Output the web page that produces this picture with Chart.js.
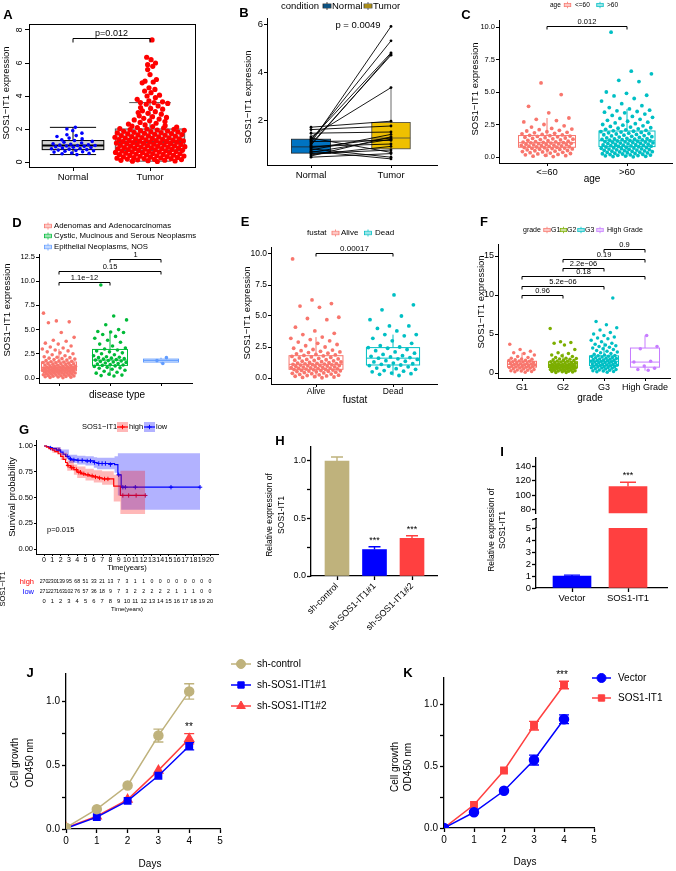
<!DOCTYPE html>
<html>
<head>
<meta charset="utf-8">
<script src="https://cdn.jsdelivr.net/npm/chart.js@4.4.1/dist/chart.umd.min.js"></script>
<style>
  html, body { margin: 0; padding: 0; background: #fff; }
  #fig { position: relative; width: 676px; height: 871px; overflow: hidden; background: #fff; }
  #fig canvas { position: absolute; }
</style>
</head>
<body>
<div id="fig"></div>
<script>
// ---------- data ----------
// A: SOS1-IT1 expression, normal vs tumor (beeswarm)
const aGroups = ['Normal', 'Tumor'];
const aTicks = [0, 2, 4, 6, 8];
const aNormal = [0.45,0.5,0.52,0.55,0.6,0.62,0.65,0.68,0.7,0.72,0.75,0.78,0.8,0.82,0.85,0.88,0.9,0.92,0.95,0.97,1.0,1.0,1.02,1.05,1.08,1.1,1.15,1.2,1.25,1.3,1.35,1.4,1.45,1.55,1.6,1.65,1.75,1.9,2.0,2.1];
const aTumor = [0.03,0.05,0.06,0.08,0.1,0.11,0.13,0.15,0.16,0.18,0.2,0.21,0.23,0.25,0.26,0.28,0.3,0.31,0.33,0.35,0.36,0.38,0.4,0.41,0.43,0.45,0.46,0.48,0.5,0.51,0.53,0.55,0.56,0.58,0.6,0.61,0.63,0.65,0.66,0.68,0.7,0.71,0.73,0.75,0.76,0.78,0.8,0.81,0.83,0.85,0.86,0.88,0.9,0.91,0.93,0.95,0.96,0.98,1.0,1.01,1.03,1.05,1.06,1.08,1.1,1.11,1.13,1.15,1.16,1.18,1.2,1.21,1.23,1.25,1.26,1.28,1.3,1.31,1.33,1.35,1.36,1.38,1.4,1.41,1.43,1.45,1.46,1.48,1.5,1.52,1.54,1.56,1.58,1.6,1.62,1.64,1.66,1.68,1.7,1.72,1.74,1.76,1.78,1.8,1.82,1.84,1.86,1.88,1.9,1.92,1.94,1.96,1.98,2.0,2.03,2.06,2.09,2.12,2.15,2.18,2.2,
  2.25,2.3,2.35,2.4,2.45,2.5,2.55,2.6,2.65,2.7,2.75,2.8,2.9,2.95,3.0,3.05,3.1,3.2,3.25,3.3,3.4,3.5,3.55,3.6,3.6,3.65,3.7,3.8,3.9,4.0,4.05,4.2,4.3,4.4,4.5,4.8,4.85,4.9,5.0,5.3,5.6,5.8,5.9,6.0,6.2,6.35,7.4];
const aBoxNormal = [0.45, 0.75, 1.0, 1.3, 2.1];   // min, q1, median, q3, max
const aBoxTumor = [0.05, 0.7, 1.2, 2.0, 3.6];

// B: paired samples
const bGroups = ['Normal', 'Tumor'];
const bNormal = [1.05,1.15,1.2,0.95,1.0,1.3,1.7,1.6,1.45,0.75,0.5,0.85,0.65,1.1,0.9,0.55,0.6,1.25,0.45,0.8,0.7];
const bTumor = [5.9,5.3,4.8,4.75,4.7,3.35,1.95,1.75,1.5,1.4,1.3,1.25,1.2,1.15,1.0,0.9,0.75,0.65,0.6,0.45,0.38];
const bBoxNormal = [0.42, 0.62, 0.88, 1.2, 1.7];
const bBoxTumor = [0.38, 0.8, 1.25, 1.9, 3.35];

// C: age
const cGroups = ['<=60', '>60'];
const cYoung = [0.03,0.06,0.1,0.13,0.17,0.2,0.24,0.27,0.3,0.33,0.36,0.39,0.42,0.45,0.48,0.5,0.53,0.55,0.58,0.6,0.62,0.65,0.67,0.69,0.71,0.73,0.75,0.77,0.79,0.81,0.83,0.85,0.87,0.89,0.91,0.93,0.95,0.97,0.99,1.01,1.03,1.05,1.07,1.09,1.11,1.13,1.15,1.17,1.19,1.22,1.25,1.28,1.31,1.34,1.37,1.4,1.43,1.46,1.49,1.52,1.55,1.58,1.61,1.64,1.67,1.7,1.74,1.78,1.82,1.86,1.9,1.95,2.0,2.05,2.1,2.15,2.2,2.3,2.4,2.5,2.7,2.8,2.9,3.0,3.4,3.9,4.8,5.7];
const cOld = [0.01,0.03,0.05,0.07,0.09,0.11,0.13,0.15,0.17,0.19,0.21,0.23,0.25,0.27,0.29,0.31,0.33,0.35,0.37,0.39,0.41,0.43,0.45,0.47,0.49,0.51,0.53,0.55,0.57,0.59,0.61,0.63,0.65,0.67,0.69,0.71,0.73,0.75,0.77,0.79,0.81,0.83,0.85,0.87,0.89,0.91,0.93,0.95,0.97,0.99,1.01,1.03,1.05,1.07,1.09,1.11,1.13,1.15,1.17,1.19,1.21,1.23,1.25,1.27,1.29,1.31,1.33,1.35,1.37,1.39,1.41,1.44,1.47,1.5,1.53,1.56,1.59,1.62,1.65,1.68,1.71,1.74,1.77,1.8,1.83,1.86,1.89,1.92,1.95,1.98,2.01,2.05,2.09,2.13,2.17,2.21,2.25,2.3,2.35,2.4,2.45,2.5,2.56,2.62,2.68,2.75,2.82,2.9,2.97,3.05,3.12,3.2,3.3,3.4,3.45,3.5,3.55,3.6,3.7,3.8,3.95,4.1,4.3,4.5,4.7,4.75,4.9,5.0,5.8,5.9,6.4,6.6,9.6];
const cBoxYoung = [0.0, 0.75, 1.1, 1.65, 3.0];
const cBoxOld = [0.0, 0.8, 1.25, 2.0, 3.7];

// D: disease type
const dGroups = ['Adenomas and Adenocarcinomas', 'Cystic, Mucinous and Serous Neoplasms', 'Epithelial Neoplasms, NOS'];
const dAden = [0.02,0.05,0.08,0.1,0.13,0.15,0.18,0.2,0.23,0.25,0.28,0.3,0.33,0.35,0.38,0.4,0.43,0.45,0.48,0.5,0.52,0.54,0.56,0.58,0.6,0.62,0.64,0.66,0.68,0.7,0.72,0.74,0.76,0.78,0.8,0.82,0.84,0.86,0.88,0.9,0.92,0.94,0.96,0.98,1.0,1.02,1.04,1.06,1.08,1.1,1.12,1.14,1.16,1.18,1.2,1.23,1.26,1.29,1.32,1.35,1.38,1.41,1.44,1.47,1.5,1.53,1.56,1.6,1.64,1.68,1.72,1.76,1.8,1.85,1.9,1.95,2.0,2.05,2.1,2.15,2.2,2.3,2.4,2.5,2.6,2.7,2.8,2.9,3.0,3.1,3.2,3.3,3.5,3.6,3.8,3.9,4.2,4.7,5.7,5.8,5.9,6.7];
const dCyst = [0.2,0.25,0.3,0.4,0.5,0.6,0.7,0.8,0.9,1.0,1.05,1.1,1.2,1.25,1.3,1.35,1.4,1.45,1.5,1.55,1.6,1.65,1.7,1.75,1.8,1.85,1.9,1.95,2.0,2.05,2.1,2.15,2.2,2.3,2.4,2.5,2.6,2.7,2.8,2.9,3.0,3.1,3.3,3.5,3.7,3.9,4.1,4.3,4.5,4.7,4.75,4.8,5.0,5.5,6.0,6.4,9.6];
const dEpi = [1.5, 1.8, 2.1];
const dBoxes = [[0.0, 0.75, 1.1, 1.65, 3.0], [0.25, 1.3, 1.85, 2.95, 4.8], [1.5, 1.65, 1.8, 1.95, 2.1]];

// E: fustat
const eGroups = ['Alive', 'Dead'];
const eAlive = [0.02,0.05,0.08,0.11,0.14,0.17,0.2,0.23,0.26,0.29,0.32,0.35,0.38,0.41,0.44,0.47,0.5,0.52,0.54,0.56,0.58,0.6,0.62,0.64,0.66,0.68,0.7,0.72,0.74,0.76,0.78,0.8,0.82,0.84,0.86,0.88,0.9,0.92,0.94,0.96,0.98,1.0,1.02,1.04,1.06,1.08,1.1,1.12,1.14,1.16,1.18,1.2,1.23,1.26,1.29,1.32,1.35,1.38,1.41,1.44,1.47,1.5,1.54,1.58,1.62,1.66,1.7,1.74,1.78,1.82,1.86,1.9,1.95,2.0,2.05,2.1,2.15,2.2,2.25,2.3,2.4,2.5,2.6,2.7,2.8,2.9,3.0,3.1,3.2,3.3,3.5,3.6,3.8,4.1,4.7,4.8,4.9,5.7,5.8,6.0,6.3,9.6];
const eDead = [0.2,0.3,0.35,0.4,0.5,0.55,0.6,0.7,0.75,0.8,0.9,0.95,1.0,1.05,1.1,1.15,1.2,1.3,1.35,1.4,1.5,1.55,1.6,1.65,1.7,1.75,1.8,1.9,2.0,2.1,2.2,2.3,2.4,2.45,2.5,2.6,2.8,3.0,3.2,3.4,3.5,3.5,3.8,4.0,4.2,4.2,4.7,5.0,5.5,5.9,6.7];
const eBoxAlive = [0.0, 0.7, 1.1, 1.8, 3.3];
const eBoxDead = [0.2, 1.05, 1.6, 2.45, 3.5];

// F: grade
const fGroups = ['G1', 'G2', 'G3', 'High Grade'];
const fG1 = [0.1,0.15,0.2,0.25,0.3,0.35,0.4,0.45,0.5,0.55,0.6,0.65,0.7,0.74,0.78,0.82,0.86,0.9,0.94,0.98,1.02,1.06,1.1,1.14,1.18,1.22,1.26,1.3,1.35,1.4,1.45,1.5,1.55,1.6,1.65,1.7,1.75,1.8,1.9,2.0,2.1,2.3,2.5,2.6,2.8,3.0,3.7];
const fG2 = [0.05,0.08,0.12,0.15,0.18,0.22,0.25,0.28,0.32,0.35,0.38,0.42,0.45,0.48,0.5,0.53,0.56,0.59,0.62,0.65,0.68,0.7,0.72,0.75,0.78,0.8,0.82,0.85,0.88,0.9,0.92,0.95,0.98,1.0,1.02,1.05,1.08,1.1,1.13,1.16,1.2,1.24,1.28,1.32,1.36,1.4,1.45,1.5,1.55,1.6,1.65,1.7,1.75,1.8,1.85,1.9,2.0,2.1,2.2,2.3,2.5,2.6,3.0,3.6,3.8,3.9,4.0,5.7];
const fG3 = [0.1,0.15,0.2,0.25,0.3,0.35,0.4,0.45,0.5,0.55,0.6,0.64,0.68,0.72,0.76,0.8,0.84,0.88,0.92,0.96,1.0,1.04,1.08,1.12,1.16,1.2,1.24,1.28,1.32,1.36,1.4,1.44,1.48,1.52,1.56,1.6,1.64,1.68,1.72,1.76,1.8,1.85,1.9,1.95,2.0,2.05,2.1,2.15,2.2,2.25,2.3,2.4,2.5,2.6,2.7,2.8,2.9,3.0,3.1,3.2,3.3,3.4,3.5,3.6,3.7,3.8,4.0,4.2,4.4,4.5,4.6,4.8,5.0,5.2,5.5,5.8,6.2,6.6,9.6];
const fHG = [0.35, 0.45, 0.6, 0.9, 1.4, 1.5, 3.1, 3.4, 4.8];
const fBoxes = [[0.1, 0.75, 1.1, 1.5, 2.6], [0.05, 0.7, 1.0, 1.45, 2.5], [0.1, 0.95, 1.5, 2.2, 3.9], [0.3, 0.75, 1.4, 3.2, 4.8]];

// G: Kaplan-Meier
const gYears = [0,1,2,3,4,5,6,7,8,9,10,11,12,13,14,15,16,17,18,19,20];
const gHigh = [[0,1],[0.3,0.99],[0.6,0.975],[1,0.96],[1.3,0.945],[1.7,0.925],[2,0.9],[2.3,0.87],[2.6,0.84],[2.8,0.81],[3.2,0.79],[3.6,0.77],[4,0.745],[4.5,0.73],[5,0.72],[5.5,0.71],[6,0.7],[6.5,0.69],[7,0.68],[8.4,0.61],[9.2,0.52],[12.2,0.52]];
const gHighUp = [[0,1],[1,0.985],[2,0.935],[2.8,0.86],[3.6,0.82],[4,0.8],[5,0.78],[6,0.765],[7,0.755],[8.4,0.72],[9.2,0.76],[12.2,0.76]];
const gHighLo = [[0,1],[1,0.935],[2,0.865],[2.8,0.76],[3.6,0.72],[4,0.69],[5,0.665],[6,0.645],[7,0.625],[8.4,0.46],[9.2,0.34],[12.2,0.34]];
const gLow = [[0,1],[0.3,0.995],[0.6,0.985],[1,0.975],[1.5,0.96],[2,0.94],[2.3,0.92],[2.6,0.9],[3,0.875],[3.3,0.865],[4,0.86],[5,0.855],[6,0.84],[6.4,0.83],[8.5,0.82],[8.9,0.72],[9.3,0.6],[18.8,0.6]];
const gLowUp = [[0,1],[1,0.99],[2,0.965],[3,0.915],[4,0.905],[5,0.9],[6,0.89],[6.4,0.885],[8.5,0.9],[8.9,0.93],[9.3,0.93],[18.8,0.93]];
const gLowLo = [[0,1],[1,0.955],[2,0.91],[3,0.835],[4,0.82],[5,0.81],[6,0.79],[6.4,0.775],[8.5,0.74],[8.9,0.52],[9.3,0.38],[18.8,0.38]];
const gCensHigh = [[2.9,0.81],[3.3,0.79],[3.5,0.79],[3.9,0.77],[4.2,0.745],[4.4,0.745],[4.8,0.73],[5.3,0.72],[5.8,0.71],[6.2,0.7],[6.7,0.69],[7.3,0.68],[7.7,0.68],[9.5,0.52],[10.2,0.52],[11.1,0.52],[12.2,0.52]];
const gCensLow = [[0.8,0.98],[1.8,0.96],[2.8,0.9],[3.2,0.875],[3.6,0.865],[4.1,0.86],[4.6,0.86],[5.2,0.855],[5.6,0.855],[6.1,0.84],[6.6,0.83],[7.0,0.83],[7.4,0.83],[8.0,0.82],[9.0,0.72],[9.5,0.6],[9.8,0.6],[11.0,0.6],[15.3,0.6],[18.8,0.6]];
const gRiskHigh = [270,230,139,95,68,51,33,21,13,7,3,1,1,0,0,0,0,0,0,0,0];
const gRiskLow = [271,227,163,102,76,57,36,18,9,7,3,2,2,2,2,2,1,1,1,0,0];

// H: knockdown qPCR
const hLabels = ['sh-control', 'sh-SOS1-IT1#1', 'sh-SOS1-IT1#2'];
const hValues = [1.0, 0.23, 0.328];
const hErr = [0.035, 0.025, 0.022];

// I: overexpression qPCR
const iLabels = ['Vector', 'SOS1-IT1'];
const iValues = [1.0, 112];
const iErr = [0.07, 6];

// J / K: CCK-8 growth curves
const days = [0, 1, 2, 3, 4];
const jControl = [0.01, 0.155, 0.34, 0.73, 1.075];
const jSh1 = [0.005, 0.093, 0.22, 0.416, 0.648];
const jSh2 = [0.01, 0.1, 0.23, 0.458, 0.705];
const jErrControl = [0, 0.01, 0.02, 0.05, 0.06];
const jErrSh1 = [0, 0.01, 0.01, 0.015, 0.03];
const jErrSh2 = [0, 0.01, 0.01, 0.015, 0.04];
const kVector = [0, 0.127, 0.3, 0.548, 0.877];
const kOver = [0, 0.187, 0.464, 0.825, 1.153];
const kErrVector = [0, 0.01, 0.015, 0.04, 0.035];
const kErrOver = [0, 0.012, 0.015, 0.035, 0.03];

// ---------- helpers ----------
const FONT = '"Liberation Sans", Arial, Helvetica, sans-serif';
Chart.defaults.font.family = FONT;
Chart.defaults.color = '#000';
const fig = document.getElementById('fig');
const GOLD = 0.6180339887;
const RED = '#F8766D', TEAL = '#00BFC4';

function span(v0, p0, v1, p1, lo, hi) {
  const k = (v1 - v0) / (p1 - p0);
  return { min: v0 + (lo - p0) * k, max: v0 + (hi - p0) * k };
}

function jitter(vals, cat, w) {
  return vals.map((v, i) => ({ x: cat + (((i + 1) * GOLD) % 1 - 0.5) * 2 * w, y: v }));
}

function swarm(vals, cat, w) {
  const cnt = vals.map(v => vals.filter(u => Math.abs(u - v) <= 0.2).length);
  const ref = Math.max(...cnt) * 0.6;
  return vals.map((v, i) => {
    const k = Math.pow(Math.min(1, cnt[i] / ref), 0.9);
    return { x: cat + (((i + 1) * GOLD) % 1 - 0.5) * 2 * w * k, y: v };
  });
}

function text(ctx, s, x, y, o = {}) {
  ctx.save();
  ctx.font = (o.bold ? 'bold ' : '') + (o.size || 8) + 'px ' + FONT;
  ctx.fillStyle = o.color || '#000';
  ctx.textAlign = o.align || 'center';
  ctx.textBaseline = o.base || 'middle';
  ctx.translate(x, y);
  if (o.rot) ctx.rotate(o.rot);
  ctx.fillText(s, 0, 0);
  ctx.restore();
}

function axis(range, ticks, o) {
  return {
    type: 'linear', min: range.min, max: range.max, bounds: 'data', offset: false,
    afterBuildTicks: s => { s.ticks = ticks.map(v => ({ value: v })); },
    ticks: {
      display: o.labels !== false, autoSkip: false, padding: o.pad ?? 2,
      minRotation: o.rot || 0, maxRotation: o.rot || 0,
      font: { size: o.size || 8 }, color: '#000',
      callback: o.fmt || (v => String(v)),
    },
    grid: { display: true, offset: false, drawOnChartArea: false, drawTicks: true,
      tickLength: o.tick ?? 3, tickWidth: o.bw || 1, tickColor: '#000', color: '#000' },
    border: { display: true, color: '#000', width: o.bw || 1 },
  };
}

function panel(p) {
  const { box, plot } = p;
  const canvas = document.createElement('canvas');
  canvas.width = box.w; canvas.height = box.h;
  Object.assign(canvas.style, { left: box.x + 'px', top: box.y + 'px', width: box.w + 'px', height: box.h + 'px' });
  fig.appendChild(canvas);
  const util = c => ({
    X: v => c.scales.x.getPixelForValue(v),
    Y: v => c.scales.y.getPixelForValue(v),
    px: x => x - box.x,
    py: y => y - box.y,
    t: (s, x, y, o) => text(c.ctx, s, x - box.x, y - box.y, o),
    tc: (s, x, y, o) => text(c.ctx, s, x, y, o),
  });
  const xs = axis(p.xr, p.xt, p.xo || {});
  xs.afterFit = s => { s.height = box.y + box.h - plot.b; };
  if (p.noX) xs.display = false;
  const ys = axis(p.yr, p.yt, p.yo || {});
  ys.afterFit = s => { s.width = plot.l - box.x; };
  return new Chart(canvas, {
    type: p.type || 'scatter',
    data: { datasets: p.datasets },
    options: {
      responsive: false, animation: false, devicePixelRatio: 1, events: [],
      layout: { padding: { left: 0, top: plot.t - box.y, right: box.x + box.w - plot.r,
        bottom: p.noX ? box.y + box.h - plot.b : 0 } },
      plugins: { legend: { display: false }, tooltip: { enabled: false } },
      scales: { x: xs, y: ys },
    },
    plugins: [{
      id: 'deco',
      beforeDatasetsDraw: c => { if (p.under) p.under(c.ctx, util(c)); },
      afterDatasetsDraw: c => { if (p.over) p.over(c.ctx, util(c)); },
    }],
  });
}

function drawBox(ctx, u, cat, s, hw, o) {
  const x0 = u.X(cat - hw), x1 = u.X(cat + hw), xm = u.X(cat);
  ctx.save();
  ctx.strokeStyle = o.stroke; ctx.lineWidth = o.lw || 1;
  ctx.beginPath();
  ctx.moveTo(xm, u.Y(s[0])); ctx.lineTo(xm, u.Y(s[1]));
  ctx.moveTo(xm, u.Y(s[3])); ctx.lineTo(xm, u.Y(s[4]));
  if (o.cap) {
    const cw = (x1 - x0) * o.cap / 2;
    ctx.moveTo(xm - cw, u.Y(s[0])); ctx.lineTo(xm + cw, u.Y(s[0]));
    ctx.moveTo(xm - cw, u.Y(s[4])); ctx.lineTo(xm + cw, u.Y(s[4]));
  }
  ctx.stroke();
  ctx.fillStyle = o.fill;
  ctx.fillRect(x0, u.Y(s[3]), x1 - x0, u.Y(s[1]) - u.Y(s[3]));
  ctx.strokeRect(x0, u.Y(s[3]), x1 - x0, u.Y(s[1]) - u.Y(s[3]));
  ctx.lineWidth = o.mlw || o.lw || 1;
  ctx.beginPath(); ctx.moveTo(x0, u.Y(s[2])); ctx.lineTo(x1, u.Y(s[2])); ctx.stroke();
  ctx.restore();
}

function bracket(ctx, u, a, b, v, label, size, tick = 3) {
  const y = Math.round(u.Y(v)) + 0.5, x0 = u.X(a), x1 = u.X(b);
  ctx.save();
  ctx.strokeStyle = '#000'; ctx.lineWidth = 1;
  ctx.beginPath();
  ctx.moveTo(x0, y + tick); ctx.lineTo(x0, y); ctx.lineTo(x1, y); ctx.lineTo(x1, y + tick);
  ctx.stroke();
  ctx.restore();
  u.tc(label, (x0 + x1) / 2, y - 0.5, { size, base: 'bottom' });
}

// ggplot-style boxplot legend key, page coords
function boxKey(ctx, u, x, y, s, stroke, fill) {
  const cx = u.px(x), cy = u.py(y);
  ctx.save();
  ctx.strokeStyle = stroke; ctx.lineWidth = 0.8;
  ctx.beginPath(); ctx.moveTo(cx, cy - s / 2); ctx.lineTo(cx, cy + s / 2); ctx.stroke();
  ctx.fillStyle = fill;
  ctx.fillRect(cx - s / 2, cy - s / 4, s, s / 2);
  ctx.strokeRect(cx - s / 2, cy - s / 4, s, s / 2);
  ctx.beginPath(); ctx.moveTo(cx - s / 2, cy); ctx.lineTo(cx + s / 2, cy); ctx.stroke();
  ctx.restore();
}

function errBar(ctx, u, x, v, e, color, cap, both) {
  const xp = u.X(x);
  ctx.save();
  ctx.strokeStyle = color; ctx.lineWidth = 1.4;
  ctx.beginPath();
  ctx.moveTo(xp, u.Y(both ? v - e : v)); ctx.lineTo(xp, u.Y(v + e));
  ctx.moveTo(xp - cap, u.Y(v + e)); ctx.lineTo(xp + cap, u.Y(v + e));
  if (both) { ctx.moveTo(xp - cap, u.Y(v - e)); ctx.lineTo(xp + cap, u.Y(v - e)); }
  ctx.stroke();
  ctx.restore();
}

function marker(ctx, style, r, x, y, color) {
  ctx.save();
  ctx.fillStyle = color; ctx.strokeStyle = color; ctx.lineWidth = 1;
  Chart.helpers.drawPoint(ctx, { pointStyle: style, radius: r, rotation: 0, borderWidth: 1 }, x, y);
  ctx.restore();
}

const ROT = -Math.PI / 2;
const fmt1 = v => v.toFixed(1);
const fmtHalf = v => (Math.abs(v * 2 - Math.round(v * 2)) < 1e-6 ? v.toFixed(1) : '');

// ---------- A ----------
panel({
  box: { x: 0, y: 0, w: 225, h: 195 }, plot: { l: 29, t: 24, r: 195, b: 167 },
  xr: span(1, 73, 2, 150, 29, 195), xt: [1, 2],
  xo: { fmt: v => aGroups[Math.round(v) - 1], size: 9.5, tick: 4, pad: 1 },
  yr: span(0, 162, 8, 30, 167, 24), yt: aTicks, yo: { labels: false, tick: 4 },
  datasets: [
    { data: swarm(aNormal, 1, 0.3), backgroundColor: '#0000FF', borderWidth: 0, pointRadius: 1.8 },
    { data: swarm(aTumor, 2, 0.46), backgroundColor: '#FF0000', borderWidth: 0, pointRadius: 2.6 },
  ],
  under: (ctx, u) => {
    drawBox(ctx, u, 1, aBoxNormal, 0.4, { stroke: '#000', fill: '#D3D3D3', lw: 1, mlw: 2.2, cap: 0.75 });
    drawBox(ctx, u, 2, aBoxTumor, 0.45, { stroke: '#555', fill: '#D3D3D3', lw: 1, mlw: 2.2, cap: 0.6 });
  },
  over: (ctx, u) => {
    ctx.save(); ctx.strokeStyle = '#000'; ctx.lineWidth = 1;
    ctx.strokeRect(u.px(29) + 0.5, u.py(24) + 0.5, 166, 143); ctx.restore();
    aTicks.forEach(v => u.tc(String(v), u.px(20), u.Y(v), { size: 8.5, rot: ROT }));
    bracket(ctx, u, 1, 2, 7.5, 'p=0.012', 9, 4);
    u.t('A', 8, 15, { bold: true, size: 13 });
    u.t('SOS1−IT1 expression', 6, 93, { size: 9.5, rot: ROT });
  },
});

// ---------- B ----------
panel({
  box: { x: 225, y: 0, w: 225, h: 195 }, plot: { l: 267, t: 18, r: 437, b: 165 },
  xr: span(1, 311, 2, 391, 267, 437), xt: [1, 2],
  xo: { fmt: v => bGroups[Math.round(v) - 1], size: 9.5, tick: 3, pad: 2 },
  yr: span(2, 120, 6, 24, 165, 18), yt: [2, 4, 6], yo: { size: 9.5, tick: 3, pad: 1 },
  datasets: bNormal.map((v, i) => ({
    type: 'line', data: [{ x: 1, y: v }, { x: 2, y: bTumor[i] }],
    borderColor: '#000', borderWidth: 0.9, pointRadius: 1.4,
    pointBackgroundColor: '#000', pointBorderWidth: 0,
  })),
  under: (ctx, u) => {
    drawBox(ctx, u, 1, bBoxNormal, 0.245, { stroke: '#222', fill: '#0073C2', lw: 0.8 });
    drawBox(ctx, u, 2, bBoxTumor, 0.24, { stroke: '#444', fill: '#EFC000', lw: 0.8 });
  },
  over: (ctx, u) => {
    u.t('p = 0.0049', 358, 25, { size: 9.5 });
    u.t('condition', 281, 6, { size: 9.5, align: 'left' });
    boxKey(ctx, u, 327, 6, 8, '#222', '#0073C2');
    u.t('Normal', 332, 6, { size: 9.5, align: 'left' });
    boxKey(ctx, u, 368, 6, 8, '#444', '#EFC000');
    u.t('Tumor', 373, 6, { size: 9.5, align: 'left' });
    u.t('B', 244, 13, { bold: true, size: 13 });
    u.t('SOS1−IT1 expression', 248, 97, { size: 9.5, rot: ROT });
  },
});

// ---------- C ----------
panel({
  box: { x: 450, y: 0, w: 226, h: 195 }, plot: { l: 499, t: 20, r: 672, b: 163 },
  xr: span(1, 547, 2, 627, 499, 672), xt: [1, 2],
  xo: { fmt: v => cGroups[Math.round(v) - 1], size: 9.5, tick: 3, pad: 1 },
  yr: span(0, 157, 10, 27, 163, 20), yt: [0, 2.5, 5, 7.5, 10], yo: { size: 7.5, tick: 3, pad: 1, fmt: fmt1 },
  datasets: [
    { data: jitter(cYoung, 1, 0.33), backgroundColor: RED, borderWidth: 0, pointRadius: 1.9 },
    { data: jitter(cOld, 2, 0.33), backgroundColor: TEAL, borderWidth: 0, pointRadius: 1.9 },
  ],
  under: (ctx, u) => {
    drawBox(ctx, u, 1, cBoxYoung, 0.356, { stroke: RED, fill: '#fff', lw: 1 });
    drawBox(ctx, u, 2, cBoxOld, 0.35, { stroke: TEAL, fill: '#fff', lw: 1 });
  },
  over: (ctx, u) => {
    bracket(ctx, u, 1, 2, 10.08, '0.012', 7.5);
    u.t('age', 550, 5, { size: 6.5, align: 'left' });
    boxKey(ctx, u, 567.5, 5, 6.5, RED, '#fff');
    u.t('<=60', 575, 5, { size: 6.5, align: 'left' });
    boxKey(ctx, u, 600, 5, 6.5, TEAL, '#fff');
    u.t('>60', 607, 5, { size: 6.5, align: 'left' });
    u.t('age', 592, 179, { size: 10 });
    u.t('C', 466, 15, { bold: true, size: 13 });
    u.t('SOS1−IT1 expression', 475, 89, { size: 9.5, rot: ROT });
  },
});

// ---------- D ----------
const dColors = ['#F8766D', '#00BA38', '#619CFF'];
panel({
  box: { x: 0, y: 195, w: 225, h: 210 }, plot: { l: 39, t: 254, r: 192, b: 383 },
  xr: span(1, 59, 2, 110, 39, 192), xt: [1, 2, 3], xo: { fmt: () => '', tick: 3 },
  yr: span(0, 378, 12.5, 257, 383, 254), yt: [0, 2.5, 5, 7.5, 10, 12.5], yo: { size: 7.5, tick: 3, pad: 1, fmt: fmt1 },
  datasets: [dAden, dCyst, dEpi].map((vals, i) => ({
    data: jitter(vals, i + 1, i === 2 ? 0.15 : 0.33), backgroundColor: dColors[i], borderWidth: 0, pointRadius: 1.8,
  })),
  under: (ctx, u) => {
    dBoxes.forEach((s, i) => drawBox(ctx, u, i + 1, s, 0.343, { stroke: dColors[i], fill: '#fff', lw: 1 }));
  },
  over: (ctx, u) => {
    bracket(ctx, u, 1, 2, 9.92, '1.1e−12', 7.5);
    bracket(ctx, u, 1, 3, 11.05, '0.15', 7.5);
    bracket(ctx, u, 2, 3, 12.3, '1', 7.5);
    [226, 236, 247].forEach((y, i) => {
      boxKey(ctx, u, 48, y, 7, dColors[i], '#fff');
      u.t(dGroups[i], 54, y, { size: 7.8, align: 'left' });
    });
    u.t('disease type', 117, 395, { size: 10 });
    u.t('D', 17, 223, { bold: true, size: 13 });
    u.t('SOS1−IT1 expression', 7, 310, { size: 9.5, rot: ROT });
  },
});

// ---------- E ----------
panel({
  box: { x: 225, y: 195, w: 225, h: 215 }, plot: { l: 271, t: 247, r: 437, b: 384 },
  xr: span(1, 316, 2, 393, 271, 437), xt: [1, 2],
  xo: { fmt: v => eGroups[Math.round(v) - 1], size: 8.5, tick: 3, pad: 0 },
  yr: span(0, 378, 10, 254, 384, 247), yt: [0, 2.5, 5, 7.5, 10], yo: { size: 8.5, tick: 3, pad: 1, fmt: fmt1 },
  datasets: [
    { data: jitter(eAlive, 1, 0.33), backgroundColor: RED, borderWidth: 0, pointRadius: 1.9 },
    { data: jitter(eDead, 2, 0.33), backgroundColor: TEAL, borderWidth: 0, pointRadius: 1.9 },
  ],
  under: (ctx, u) => {
    drawBox(ctx, u, 1, eBoxAlive, 0.35, { stroke: RED, fill: '#fff', lw: 1 });
    drawBox(ctx, u, 2, eBoxDead, 0.345, { stroke: TEAL, fill: '#fff', lw: 1 });
  },
  over: (ctx, u) => {
    bracket(ctx, u, 1, 2, 10.08, '0.00017', 8);
    u.t('fustat', 307, 233, { size: 8, align: 'left' });
    boxKey(ctx, u, 335.5, 233, 7, RED, '#fff');
    u.t('Alive', 341, 233, { size: 8, align: 'left' });
    boxKey(ctx, u, 368, 233, 7, TEAL, '#fff');
    u.t('Dead', 375, 233, { size: 8, align: 'left' });
    u.t('fustat', 355, 400, { size: 10 });
    u.t('E', 245, 222, { bold: true, size: 13 });
    u.t('SOS1−IT1 expression', 247, 313, { size: 9.5, rot: ROT });
  },
});

// ---------- F ----------
const fColors = ['#F8766D', '#7CAE00', '#00BFC4', '#C77CFF'];
panel({
  box: { x: 450, y: 195, w: 226, h: 215 }, plot: { l: 498, t: 244, r: 670, b: 378 },
  xr: span(1, 522, 2, 563, 498, 670), xt: [1, 2, 3, 4],
  xo: { fmt: v => fGroups[Math.round(v) - 1], size: 9, tick: 3, pad: 1 },
  yr: span(0, 373, 15, 256, 378, 244), yt: [0, 5, 10, 15], yo: { size: 9, tick: 3, pad: 1 },
  datasets: [fG1, fG2, fG3, fHG].map((vals, i) => ({
    data: jitter(vals, i + 1, 0.33), backgroundColor: fColors[i], borderWidth: 0, pointRadius: 1.75,
  })),
  under: (ctx, u) => {
    fBoxes.forEach((s, i) => drawBox(ctx, u, i + 1, s, 0.354, { stroke: fColors[i], fill: '#fff', lw: 1 }));
  },
  over: (ctx, u) => {
    bracket(ctx, u, 1, 2, 10.0, '0.96', 7.5);
    bracket(ctx, u, 1, 3, 11.15, '5.2e−06', 7.5);
    bracket(ctx, u, 1, 4, 12.4, '0.18', 7.5);
    bracket(ctx, u, 2, 3, 13.46, '2.2e−06', 7.5);
    bracket(ctx, u, 2, 4, 14.6, '0.19', 7.5);
    bracket(ctx, u, 3, 4, 15.9, '0.9', 7.5);
    u.t('grade', 523, 230, { size: 7, align: 'left' });
    const keyX = [547, 563.5, 581, 600], txtX = [551, 567, 585, 607];
    fGroups.forEach((g, i) => {
      boxKey(ctx, u, keyX[i], 230, 6.5, fColors[i], '#fff');
      u.t(g, txtX[i], 230, { size: 7, align: 'left' });
    });
    u.t('grade', 590, 398, { size: 10 });
    u.t('F', 484, 222, { bold: true, size: 13 });
    u.t('SOS1−IT1 expression', 481, 302, { size: 9.5, rot: ROT });
  },
});

// ---------- G ----------
const kmPts = arr => arr.map(([x, y]) => ({ x, y }));
const band = (arr, fill, color) => ({
  type: 'line', data: kmPts(arr), stepped: true, fill, backgroundColor: color,
  borderColor: 'transparent', pointRadius: 0,
});
panel({
  box: { x: 0, y: 405, w: 240, h: 210 }, plot: { l: 36, t: 440, r: 218, b: 554 },
  xr: span(0, 44, 20, 210, 36, 218), xt: gYears, xo: { size: 7, tick: 2, pad: 0 },
  yr: span(0, 549, 1, 446, 554, 440), yt: [0, 0.25, 0.5, 0.75, 1],
  yo: { size: 7.5, tick: 2, pad: 1, fmt: v => v.toFixed(2) },
  datasets: [
    band(gHighUp, '+1', 'rgba(255,0,0,0.28)'),
    band(gHighLo, false, 'transparent'),
    band(gLowUp, '+1', 'rgba(0,0,255,0.3)'),
    band(gLowLo, false, 'transparent'),
    { type: 'line', data: kmPts(gHigh), stepped: true, borderColor: '#FF0000', borderWidth: 1.2, pointRadius: 0, fill: false },
    { type: 'line', data: kmPts(gLow), stepped: true, borderColor: '#0000FF', borderWidth: 1.2, pointRadius: 0, fill: false },
    { data: kmPts(gCensHigh), pointStyle: 'cross', pointRadius: 2.2, borderColor: '#FF0000', borderWidth: 1 },
    { data: kmPts(gCensLow), pointStyle: 'cross', pointRadius: 2.2, borderColor: '#0000FF', borderWidth: 1 },
  ],
  over: (ctx, u) => {
    u.t('p=0.015', 47, 530, { size: 7.5, align: 'left' });
    // legend
    u.t('SOS1−IT1', 82, 427, { size: 7.5, align: 'left' });
    ctx.save();
    ctx.fillStyle = 'rgba(255,0,0,0.28)'; ctx.fillRect(u.px(117), u.py(422), 11, 10);
    ctx.fillStyle = 'rgba(0,0,255,0.3)'; ctx.fillRect(u.px(144), u.py(422), 11, 10);
    ctx.lineWidth = 1.2;
    ctx.strokeStyle = '#FF0000'; ctx.beginPath(); ctx.moveTo(u.px(117), u.py(427)); ctx.lineTo(u.px(128), u.py(427)); ctx.stroke();
    ctx.strokeStyle = '#0000FF'; ctx.beginPath(); ctx.moveTo(u.px(144), u.py(427)); ctx.lineTo(u.px(155), u.py(427)); ctx.stroke();
    ctx.restore();
    marker(ctx, 'cross', 2.2, u.px(122.5), u.py(427), '#FF0000');
    marker(ctx, 'cross', 2.2, u.px(149.5), u.py(427), '#0000FF');
    u.t('high', 129, 427, { size: 7.5, align: 'left' });
    u.t('low', 156, 427, { size: 7.5, align: 'left' });
    u.t('Time(years)', 127, 568, { size: 7.5 });
    // risk table
    gYears.forEach((yr, i) => {
      u.tc(String(gRiskHigh[i]), u.X(yr), u.py(582), { size: 5.2 });
      u.tc(String(gRiskLow[i]), u.X(yr), u.py(592), { size: 5.2 });
      u.tc(String(yr), u.X(yr), u.py(601.5), { size: 5.8 });
    });
    u.t('high', 34, 582, { size: 7.5, align: 'right', color: '#FF0000' });
    u.t('low', 34, 592, { size: 7.5, align: 'right', color: '#0000FF' });
    u.t('SOS1−IT1', 3, 589, { size: 7.5, rot: ROT });
    u.t('Time(years)', 127, 609, { size: 6 });
    u.t('G', 24, 430, { bold: true, size: 13 });
    u.t('Survival probability', 12.5, 497, { size: 9.5, rot: ROT });
  },
});

// ---------- H ----------
const hColors = ['#BFB27C', '#0000FF', '#FF4040'];
panel({
  type: 'bar',
  box: { x: 240, y: 430, w: 200, h: 225 }, plot: { l: 311, t: 447, r: 437, b: 576 },
  xr: span(0, 337, 1, 374.5, 311, 437), xt: [0, 1, 2],
  xo: { fmt: v => hLabels[Math.round(v)], size: 9, tick: 4, pad: 1, rot: 45, bw: 1.3 },
  yr: span(0, 576, 1, 461, 576, 447), yt: [0, 0.25, 0.5, 0.75, 1],
  yo: { size: 9, tick: 4, pad: 1, fmt: fmtHalf, bw: 1.3 },
  datasets: [{
    data: hValues.map((v, i) => ({ x: i, y: v })), backgroundColor: hColors, borderWidth: 0, barThickness: 24,
  }],
  over: (ctx, u) => {
    hValues.forEach((v, i) => errBar(ctx, u, i, v, hErr[i], hColors[i], 6, false));
    u.tc('***', u.X(1), u.Y(hValues[1] + hErr[1]) - 6, { size: 9 });
    u.tc('***', u.X(2), u.Y(hValues[2] + hErr[2]) - 6, { size: 9 });
    u.t('H', 280, 441, { bold: true, size: 13 });
    u.t('Relative expression of', 270, 515, { size: 8.5, rot: ROT });
    u.t('SOS1-IT1', 282, 515, { size: 8.5, rot: ROT });
  },
});

// ---------- I (broken axis: upper + lower) ----------
const iColors = ['#0000FF', '#FF4040'];
const iBars = () => [{
  data: iValues.map((v, i) => ({ x: i, y: v })), backgroundColor: iColors, borderWidth: 0, barThickness: 38,
}];
panel({
  type: 'bar', noX: true,
  box: { x: 470, y: 440, w: 206, h: 80 }, plot: { l: 536, t: 458, r: 667, b: 518 },
  xr: span(0, 572, 1, 628, 536, 667), xt: [0, 1], xo: {},
  yr: span(80, 514, 140, 467, 518, 458), yt: [80, 100, 120, 140], yo: { size: 9.5, tick: 4, pad: 1, bw: 1.3 },
  datasets: iBars(),
  over: (ctx, u) => {
    errBar(ctx, u, 1, iValues[1], iErr[1], iColors[1], 8, false);
    u.tc('***', u.X(1), u.Y(iValues[1] + iErr[1]) - 7, { size: 9 });
  },
});
panel({
  type: 'bar',
  box: { x: 470, y: 440, w: 206, h: 175 }, plot: { l: 536, t: 528, r: 667, b: 588 },
  xr: span(0, 572, 1, 628, 536, 667), xt: [0, 1],
  xo: { fmt: v => iLabels[Math.round(v)], size: 9.5, tick: 4, pad: 1, bw: 1.3 },
  yr: span(0, 588, 5, 528, 588, 528), yt: [0, 1, 2, 3, 4, 5], yo: { size: 9.5, tick: 4, pad: 1, bw: 1.3 },
  datasets: iBars(),
  over: (ctx, u) => {
    errBar(ctx, u, 0, iValues[0], iErr[0], iColors[0], 8, false);
    ctx.save(); ctx.strokeStyle = '#000'; ctx.lineWidth = 1.3;
    ctx.beginPath();
    ctx.moveTo(u.px(536), u.py(518)); ctx.lineTo(u.px(536), u.py(528));
    ctx.moveTo(u.px(532), u.py(520)); ctx.lineTo(u.px(537), u.py(518.5));
    ctx.stroke(); ctx.restore();
    u.t('I', 502, 452, { bold: true, size: 13 });
    u.t('Relative expression of', 492, 530, { size: 8.5, rot: ROT });
    u.t('SOS1-IT1', 503, 530, { size: 8.5, rot: ROT });
  },
});

// ---------- J ----------
const KHAKI = '#BFB27C', BLUE = '#0000FF', RED2 = '#FF4040';
const growth = (vals, color, style, r) => ({
  type: 'line', data: days.map((d, i) => ({ x: d, y: vals[i] })),
  borderColor: color, backgroundColor: color, borderWidth: 1.5,
  pointStyle: style, pointRadius: r, pointBackgroundColor: color, pointBorderColor: color, fill: false,
});
panel({
  box: { x: 0, y: 650, w: 340, h: 221 }, plot: { l: 66, t: 674, r: 220, b: 829 },
  xr: { min: 0, max: 5 }, xt: [0, 1, 2, 3, 4, 5], xo: { size: 10, tick: 4, pad: 2, bw: 1.3 },
  yr: span(0, 829, 1, 701, 829, 674), yt: [0, 0.25, 0.5, 0.75, 1],
  yo: { size: 10, tick: 4, pad: 2, fmt: fmtHalf, bw: 1.3 },
  datasets: [
    growth(jControl, KHAKI, 'circle', 4.5),
    growth(jSh1, BLUE, 'rect', 4.5),
    growth(jSh2, RED2, 'triangle', 5),
  ],
  under: (ctx, u) => {
    days.forEach((d, i) => {
      if (jErrControl[i] > 0.02) errBar(ctx, u, d, jControl[i], jErrControl[i], KHAKI, 5, true);
      if (jErrSh1[i] > 0.02) errBar(ctx, u, d, jSh1[i], jErrSh1[i], BLUE, 5, true);
      if (jErrSh2[i] > 0.02) errBar(ctx, u, d, jSh2[i], jErrSh2[i], RED2, 5, true);
    });
  },
  over: (ctx, u) => {
    u.t('**', 189, 727, { size: 10 });
    const rows = [['sh-control', KHAKI, 'circle', 4.5, 664], ['sh-SOS1-IT1#1', BLUE, 'rect', 4.5, 685], ['sh-SOS1-IT1#2', RED2, 'triangle', 5, 706]];
    rows.forEach(([lab, col, st, r, y]) => {
      ctx.save(); ctx.strokeStyle = col; ctx.lineWidth = 1.5;
      ctx.beginPath(); ctx.moveTo(u.px(231), u.py(y)); ctx.lineTo(u.px(251), u.py(y)); ctx.stroke(); ctx.restore();
      marker(ctx, st, r, u.px(241), u.py(y), col);
      u.t(lab, 257, y, { size: 10, align: 'left' });
    });
    u.t('Days', 150, 864, { size: 10 });
    u.t('J', 30, 673, { bold: true, size: 13 });
    u.t('Cell growth', 15, 763, { size: 10, rot: ROT });
    u.t('OD450 nm', 30, 763, { size: 10, rot: ROT });
  },
});

// ---------- K ----------
panel({
  box: { x: 340, y: 650, w: 336, h: 221 }, plot: { l: 444, t: 678, r: 594, b: 828 },
  xr: { min: 0, max: 5 }, xt: [0, 1, 2, 3, 4, 5], xo: { size: 10, tick: 4, pad: 2, bw: 1.3 },
  yr: span(0, 828, 1, 704, 828, 678), yt: [0, 0.25, 0.5, 0.75, 1],
  yo: { size: 10, tick: 4, pad: 2, fmt: fmtHalf, bw: 1.3 },
  datasets: [
    growth(kVector, BLUE, 'circle', 4.5),
    growth(kOver, RED2, 'rect', 4.5),
  ],
  under: (ctx, u) => {
    days.forEach((d, i) => {
      if (kErrVector[i] > 0.02) errBar(ctx, u, d, kVector[i], kErrVector[i], BLUE, 5, true);
      if (kErrOver[i] > 0.02) errBar(ctx, u, d, kOver[i], kErrOver[i], RED2, 5, true);
    });
  },
  over: (ctx, u) => {
    u.t('***', 562, 675, { size: 10 });
    const rows = [['Vector', BLUE, 'circle', 4.5, 678], ['SOS1-IT1', RED2, 'rect', 4.5, 698]];
    rows.forEach(([lab, col, st, r, y]) => {
      ctx.save(); ctx.strokeStyle = col; ctx.lineWidth = 1.5;
      ctx.beginPath(); ctx.moveTo(u.px(592), u.py(y)); ctx.lineTo(u.px(611), u.py(y)); ctx.stroke(); ctx.restore();
      marker(ctx, st, r, u.px(601.5), u.py(y), col);
      u.t(lab, 618, y, { size: 10, align: 'left' });
    });
    u.t('Days', 525, 862, { size: 10 });
    u.t('K', 408, 673, { bold: true, size: 13 });
    u.t('Cell growth', 395, 767, { size: 10, rot: ROT });
    u.t('OD450 nm', 408, 767, { size: 10, rot: ROT });
  },
});
</script>
</body>
</html>
